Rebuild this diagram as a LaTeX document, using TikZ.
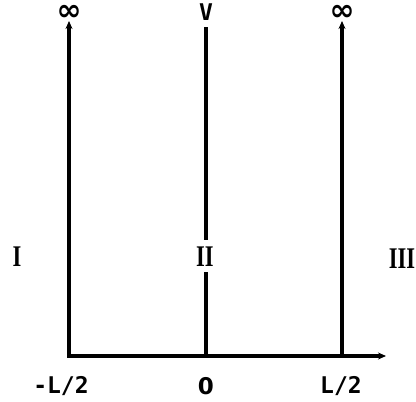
\documentclass[tikz,border=0pt]{standalone}
\usepackage{fontspec}
\setmainfont{DejaVu Sans}
\newfontfamily\romfont{Liberation Serif}
\newfontfamily\labfont{DejaVu Sans Mono}
\usetikzlibrary{arrows.meta}
\begin{document}
\begin{tikzpicture}[x=1pt,y=1pt,
  wall/.style={line width=4pt},
  lbl/.style={font=\fontsize{23}{23}\selectfont\labfont\bfseries, inner sep=0pt},
  zro/.style={font=\fontsize{23}{23}\selectfont\bfseries, inner sep=0pt},
  inf/.style={font=\fontsize{30}{30}\selectfont\bfseries, inner sep=0pt, text height=14pt, text depth=0pt},
  rom/.style={font=\fontsize{30}{30}\selectfont\romfont\bfseries, inner sep=0pt, xscale=0.75},
  tip/.style={-{Stealth[length=8pt,width=7pt]}}]
\useasboundingbox (0,0) rectangle (416,402);
\coordinate (o1) at (69,46);
\coordinate (o2) at (206,46);
\coordinate (o3) at (342,46);
\coordinate (xe) at (386,46);
\coordinate (t1) at (69,381);
\coordinate (t2) at (206,375);
\coordinate (m2a) at (206,162);
\coordinate (m2b) at (206,130);
\coordinate (t3) at (342,381);
\draw[wall,tip] (67,46) -- (xe);
\draw[wall,tip] (o1) -- (t1);
\draw[wall,tip] (o3) -- (t3);
\draw[wall] (o2) -- (m2b);
\draw[wall] (m2a) -- (t2);
\node[inf] (inf1) at (69,388) {∞};
\node[lbl] (v) at (206,390) {V};
\node[inf] (inf3) at (342,388) {∞};
\node[rom] (r1) at (17,145) {I};
\node[rom] (r2) at (205,145) {II};
\node[rom] (r3) at (402,143) {III};
\node[lbl] (a1) at (61,16) {-L/2};
\node[zro] (a2) at (206,16) {0};
\node[lbl] (a3) at (341,16) {L/2};
\end{tikzpicture}
\end{document}
